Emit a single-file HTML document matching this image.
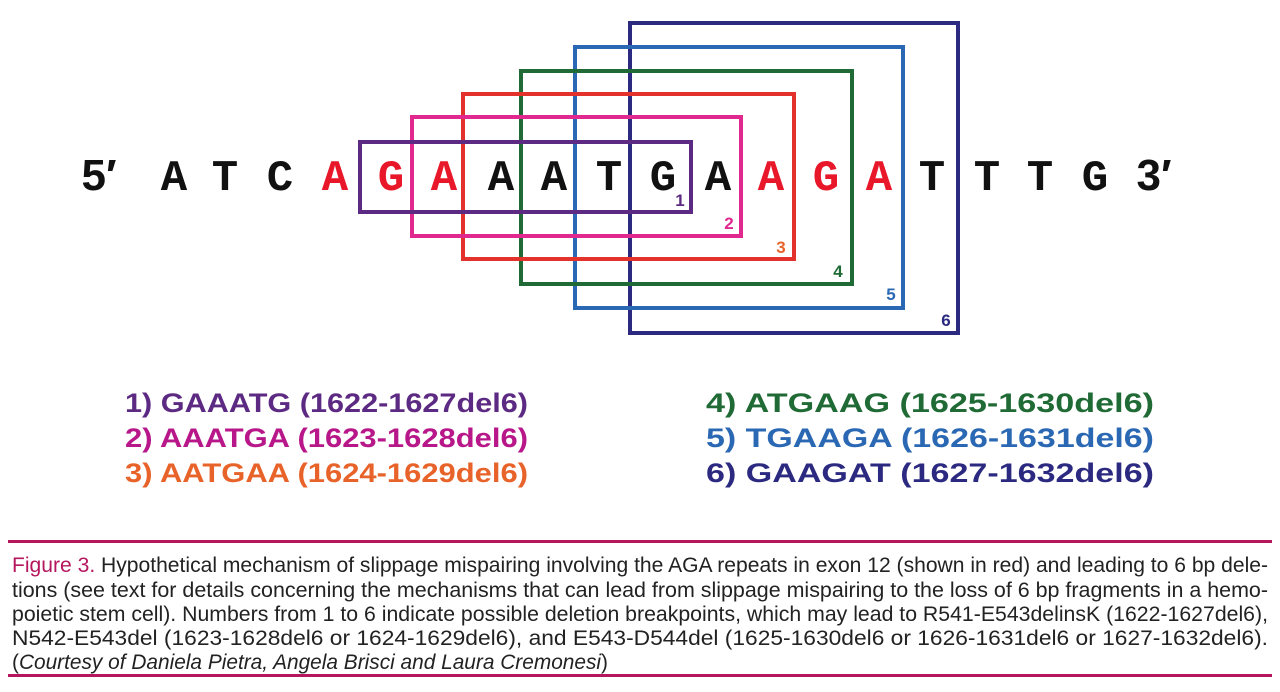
<!DOCTYPE html>
<html><head><meta charset="utf-8"><style>
html,body{margin:0;padding:0;background:#fff;}
body{width:1280px;height:692px;position:relative;overflow:hidden;}
svg{position:absolute;left:0;top:0;}
</style></head><body>
<svg width="1280" height="692" viewBox="0 0 1280 692">
<g fill="none" stroke-width="4">
<rect x="630" y="23" width="328" height="310" stroke="#2b2a80"/>
<rect x="575" y="47" width="328" height="261" stroke="#2a68b4"/>
<rect x="521" y="71" width="331" height="213" stroke="#1f6a35"/>
<rect x="463" y="94" width="331" height="165" stroke="#e3322c"/>
<rect x="412" y="117" width="329" height="119" stroke="#e0288f"/>
<rect x="360" y="142" width="331" height="70" stroke="#5c2a82"/>
</g>
<g font-family="'Liberation Mono',monospace" font-weight="bold" font-size="44" text-anchor="middle">
<text x="99" y="190" fill="#111" font-family="'Liberation Sans',sans-serif">5′</text>
<text x="174" y="190" fill="#111">A</text>
<text x="225" y="190" fill="#111">T</text>
<text x="280" y="190" fill="#111">C</text>
<text x="335" y="190" fill="#e8182a">A</text>
<text x="391" y="190" fill="#e8182a">G</text>
<text x="444" y="190" fill="#e8182a">A</text>
<text x="501" y="190" fill="#111">A</text>
<text x="554" y="190" fill="#111">A</text>
<text x="609" y="190" fill="#111">T</text>
<text x="663" y="190" fill="#111">G</text>
<text x="718" y="190" fill="#111">A</text>
<text x="771" y="190" fill="#e8182a">A</text>
<text x="826" y="190" fill="#e8182a">G</text>
<text x="879" y="190" fill="#e8182a">A</text>
<text x="932" y="190" fill="#111">T</text>
<text x="987" y="190" fill="#111">T</text>
<text x="1040" y="190" fill="#111">T</text>
<text x="1095" y="190" fill="#111">G</text>
<text x="1154" y="190" fill="#111" font-family="'Liberation Sans',sans-serif">3′</text>
</g>
<g font-family="'Liberation Sans',sans-serif" font-weight="bold" font-size="17" text-anchor="middle">
<text x="680" y="206" fill="#5c2a82">1</text>
<text x="729" y="229" fill="#e0288f">2</text>
<text x="781" y="253" fill="#e8632a">3</text>
<text x="838" y="277" fill="#1f6a35">4</text>
<text x="891" y="300" fill="#2a68b4">5</text>
<text x="946" y="326" fill="#2b2a80">6</text>
</g>
<g font-family="'Liberation Sans',sans-serif" font-weight="bold" font-size="27">
<text x="125" y="412" fill="#5c2a82" textLength="403" lengthAdjust="spacingAndGlyphs">1) GAAATG (1622-1627del6)</text>
<text x="125" y="447" fill="#b8178a" textLength="403" lengthAdjust="spacingAndGlyphs">2) AAATGA (1623-1628del6)</text>
<text x="125" y="482" fill="#e8632a" textLength="403" lengthAdjust="spacingAndGlyphs">3) AATGAA (1624-1629del6)</text>
<text x="706" y="412" fill="#1f6a35" textLength="448" lengthAdjust="spacingAndGlyphs">4) ATGAAG (1625-1630del6)</text>
<text x="706" y="447" fill="#2a68b4" textLength="448" lengthAdjust="spacingAndGlyphs">5) TGAAGA (1626-1631del6)</text>
<text x="706" y="482" fill="#2b2a80" textLength="448" lengthAdjust="spacingAndGlyphs">6) GAAGAT (1627-1632del6)</text>
</g>
<rect x="8" y="540" width="1264" height="3" fill="#b5175e"/>
<rect x="8" y="674" width="1264" height="3" fill="#b5175e"/>
<g font-family="'Liberation Sans',sans-serif" font-size="21" fill="#222">
<text x="12" y="572" textLength="1256" lengthAdjust="spacingAndGlyphs"><tspan fill="#b5175e">Figure 3.</tspan> Hypothetical mechanism of slippage mispairing involving the AGA repeats in exon 12 (shown in red) and leading to 6 bp dele-</text>
<text x="12" y="597" textLength="1256" lengthAdjust="spacingAndGlyphs">tions (see text for details concerning the mechanisms that can lead from slippage mispairing to the loss of 6 bp fragments in a hemo-</text>
<text x="12" y="621" textLength="1256" lengthAdjust="spacingAndGlyphs">poietic stem cell). Numbers from 1 to 6 indicate possible deletion breakpoints, which may lead to R541-E543delinsK (1622-1627del6),</text>
<text x="12" y="645" textLength="1256" lengthAdjust="spacingAndGlyphs">N542-E543del  (1623-1628del6  or  1624-1629del6),  and  E543-D544del  (1625-1630del6  or  1626-1631del6  or  1627-1632del6).</text>
<text x="12" y="669" textLength="596" lengthAdjust="spacingAndGlyphs">(<tspan font-style="italic">Courtesy of Daniela Pietra, Angela Brisci and Laura Cremonesi</tspan>)</text>
</g>
</svg>
</body></html>
